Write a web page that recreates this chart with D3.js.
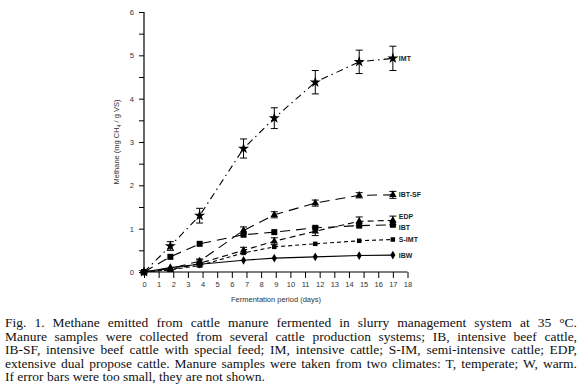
<!DOCTYPE html>
<html>
<head>
<meta charset="utf-8">
<script src="https://cdn.jsdelivr.net/npm/d3@7"></script>
<style>
body { margin:0; background:#fff; width:582px; height:384px; overflow:hidden; position:relative; }
.caption { position:absolute; left:5px; width:572px; top:316px; font-family:"Liberation Serif","Times New Roman",serif; font-size:13.5px; line-height:13.6px; color:#111; }
.caption div { text-align:justify; text-align-last:justify; white-space:nowrap; }
.caption div.last { text-align-last:left; }
</style>
</head>
<body>
<script>
// 1. data
var days = [0, 1.8, 3.8, 6.8, 8.9, 11.7, 14.7, 17];
var imt = [0, 0.6, 1.3, 2.85, 3.55, 4.38, 4.85, 4.93];
var imtErr = [0, 0.1, 0.17, 0.22, 0.24, 0.27, 0.27, 0.28];
var ibtsf = [0, 0.08, 0.25, 0.96, 1.32, 1.59, 1.77, 1.78];
var ibtsfErr = [0, 0, 0.05, 0.08, 0.07, 0.07, 0.06, 0.08];
var edp = [0, 0.05, 0.2, 0.5, 0.71, 0.94, 1.17, 1.19];
var edpErr = [0, 0, 0.08, 0.07, 0.08, 0.1, 0.1, 0.1];
var ibt = [0, 0.35, 0.65, 0.86, 0.92, 1.02, 1.07, 1.09];
var simt = [0, 0.05, 0.15, 0.44, 0.58, 0.65, 0.72, 0.75];
var ibw = [0, 0.1, 0.18, 0.27, 0.32, 0.35, 0.38, 0.39];
var seriesNames = ['IMT', 'IBT-SF', 'EDP', 'IBT', 'S-IMT', 'IBW'];
var labelAt = [4.93, 1.78, 1.29, 1.03, 0.75, 0.38]; // where the end labels sit (y units)
var xTicks = d3.range(0, 19, 1);
var yTicks = d3.range(0, 6.01, 0.5);
var captionLines = [
    'Fig. 1. Methane emitted from cattle manure fermented in slurry management system at 35 °C.',
    'Manure samples were collected from several cattle production systems; IB, intensive beef cattle,',
    'IB-SF, intensive beef cattle with special feed; IM, intensive cattle; S-IM, semi-intensive cattle; EDP,',
    'extensive dual propose cattle. Manure samples were taken from two climates: T, temperate; W, warm.',
    'If error bars were too small, they are not shown.'
];

var d3body = d3.select('body');

// 2. svg and scales
var svg = d3body.append('svg').attr('width', 582).attr('height', 312)
    .style('position', 'absolute').style('left', 0).style('top', 0);

var x = d3.scaleLinear().domain([0, 18]).range([144, 407.5]);
var y = d3.scaleLinear().domain([0, 6]).range([272, 12]);

// 3. axes
var xAxis = svg.append('g').attr('transform', 'translate(0,272)')
    .call(d3.axisBottom(x).tickValues(xTicks).tickSize(6).tickPadding(4).tickFormat(d3.format('d')));
var yAxis = svg.append('g').attr('transform', 'translate(144,0)')
    .call(d3.axisLeft(y).tickValues(yTicks).tickSize(5).tickPadding(5)
        .tickFormat(function(d){ return d % 1 === 0 ? d : ''; }));

[xAxis, yAxis].forEach(function(a){
    a.select('.domain').attr('stroke', '#000').attr('stroke-width', 1.2);
    a.selectAll('.tick line').attr('stroke', '#000').attr('stroke-width', 1);
    a.selectAll('.tick text').attr('fill', '#333')
        .style('font-family', 'Liberation Sans, Arial, sans-serif').style('font-size', '7.5px');
});
// no outer tick stubs wanted on domain path
xAxis.select('.domain').attr('d', 'M144,0H407.5');
yAxis.select('.domain').attr('d', 'M0,272V12');

// axis titles
svg.append('text').attr('x', 276).attr('y', 302).attr('text-anchor', 'middle')
    .attr('fill', '#333').style('font-family', 'Liberation Sans, Arial, sans-serif').style('font-size', '7.5px')
    .text('Fermentation period (days)');

var ylab = svg.append('text').attr('transform', 'translate(119,142) rotate(-90)')
    .attr('text-anchor', 'middle').attr('fill', '#333')
    .style('font-family', 'Liberation Sans, Arial, sans-serif').style('font-size', '7.5px');
ylab.append('tspan').text('Methane (mg CH');
ylab.append('tspan').attr('dy', 2).style('font-size', '5px').text('4');
ylab.append('tspan').attr('dy', -2).text(' / g VS)');

// 4. series
var allSeries = [
    {name: seriesNames[0], vals: imt, err: imtErr, dash: '7,4,1.5,4', sym: d3.symbolStar, size: 38},
    {name: seriesNames[1], vals: ibtsf, err: ibtsfErr, dash: '10,6', sym: d3.symbolTriangle, size: 24},
    {name: seriesNames[2], vals: edp, err: edpErr, dash: '6,4', sym: d3.symbolTriangle, size: 24},
    {name: seriesNames[3], vals: ibt, err: null, dash: '10,6', sym: d3.symbolSquare, size: 36},
    {name: seriesNames[4], vals: simt, err: null, dash: '4,3', sym: d3.symbolSquare, size: 20},
    {name: seriesNames[5], vals: ibw, err: null, dash: null, sym: d3.symbolDiamond, size: 22}
];

var line = d3.line().x(function(d){ return x(d[0]); }).y(function(d){ return y(d[1]); });

allSeries.forEach(function(s, si){
    var pts = days.map(function(dd, i){ return [dd, s.vals[i]]; });
    var g = svg.append('g').attr('class', 'series');
    g.append('path').datum(pts).attr('d', line)
        .attr('fill', 'none').attr('stroke', '#000').attr('stroke-width', 1.1)
        .attr('stroke-dasharray', s.dash);

    // error bars
    if (s.err) {
        days.forEach(function(dd, i){
            var e = s.err[i];
            if (!e) return;
            var cx = x(dd), top = y(s.vals[i] + e), bot = y(s.vals[i] - e);
            g.append('line').attr('x1', cx).attr('x2', cx).attr('y1', top).attr('y2', bot)
                .attr('stroke', '#000').attr('stroke-width', 1);
            [top, bot].forEach(function(yy){
                g.append('line').attr('x1', cx - 3.5).attr('x2', cx + 3.5).attr('y1', yy).attr('y2', yy)
                    .attr('stroke', '#000').attr('stroke-width', 1);
            });
        });
    }

    // markers
    g.selectAll('path.mk').data(pts).enter().append('path').attr('class', 'mk')
        .attr('d', d3.symbol().type(s.sym).size(s.size))
        .attr('transform', function(d){ return 'translate(' + x(d[0]) + ',' + y(d[1]) + ')'; })
        .attr('fill', '#000');

    // end label
    svg.append('text').attr('x', x(17) + 6).attr('y', y(labelAt[si]) + 2.5)
        .attr('fill', '#222').style('font-family', 'Liberation Sans, Arial, sans-serif')
        .style('font-size', '7px').style('font-weight', 'bold').text(s.name);
});

// 5. caption
var cap = d3body.append('div').attr('class', 'caption');
captionLines.forEach(function(t, i){
    cap.append('div').attr('class', i === captionLines.length - 1 ? 'last' : null).text(t);
});
</script>
</body>
</html>
